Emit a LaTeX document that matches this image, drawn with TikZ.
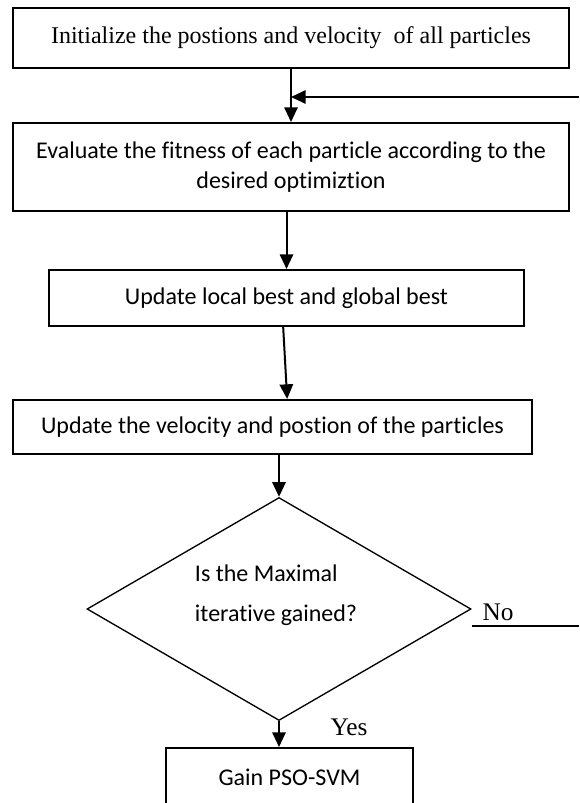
\documentclass[tikz,border=0pt]{standalone}
\usepackage{fontspec}
\setmainfont{Liberation Serif}
\newfontfamily\sansbody[Ligatures=NoCommon]{Carlito}
\usetikzlibrary{arrows.meta,shapes.geometric}

\begin{document}
\begin{tikzpicture}[x=0.75pt, y=-0.75pt, line width=1.5pt,
    main/.style = {draw, rectangle, inner sep=0pt, align=center, font=\sansbody\fontsize{18pt}{23pt}\selectfont},
    decision/.style = {draw, diamond, inner sep=0pt, line width=1pt},
    arr/.style = {-{Triangle[length=11pt,width=10pt]}}]
    \clip (0,0) rectangle (579,803);
    % steps of the loop
    \node[main, minimum width=417pt, minimum height=45pt, font=\fontsize{18pt}{23pt}\selectfont] (1) at (291,38) {Initialize the postions and velocity\ \ of all particles};
    \node[main, minimum width=417pt, minimum height=66pt] (2) at (291,167) {Evaluate the fitness of each particle according to the\\desired optimiztion};
    \node[main, minimum width=356.25pt, minimum height=42pt] (3) at (286.5,298) {Update local best and global best};
    \node[main, minimum width=389.25pt, minimum height=40.5pt] (4) at (272.5,427) {Update the velocity and postion of the particles};
    \node[decision, minimum width=288pt, minimum height=167.25pt] (5) at (279,609) {};
    \node[align=left, font=\sansbody\fontsize{18pt}{30pt}\selectfont] (5t) at (276,595) {Is the Maximal\\iterative gained?};
    \node[main, minimum width=185.25pt, minimum height=43.5pt] (6) at (289.5,777) {Gain PSO-SVM};
    % connectors
    \coordinate (back) at (579,97);
    \coordinate (no) at (579,626);
    \draw[arr] (1.south -| 2.north) -- (2.north);
    \draw[arr] (back) -- (back -| 1.south);
    \draw[arr] (2.south -| 3.north) -- (3.north);
    \draw[arr] ([xshift=-2.5pt]3.south) -- ([xshift=11pt]4.north);
    \draw[arr] (4.south -| 5.north) -- (5.north);
    \draw (5.east |- no) -- (no);
    \draw[arr] (5.south) -- (6.north -| 5.south);
    % labels
    \node[font=\fontsize{19pt}{21pt}\selectfont] (nolabel) at (498,612) {No};
    \node[font=\fontsize{19pt}{21pt}\selectfont] (yeslabel) at (349,727) {Yes};
\end{tikzpicture}
\end{document}
